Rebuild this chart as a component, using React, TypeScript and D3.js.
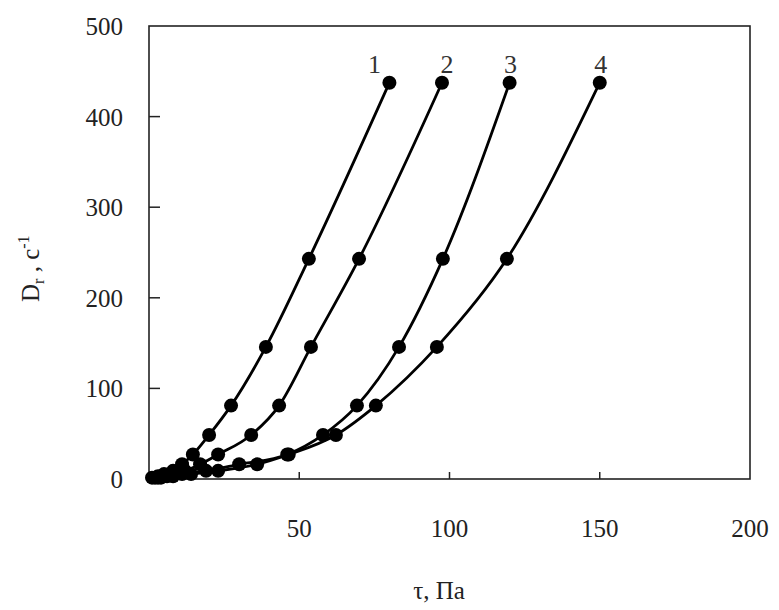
import * as d3 from 'd3';
import { useEffect, useRef } from 'react';

// shear rate (y), c^-1 — same for all four samples
const shearRates = [1.5, 3, 5.4, 9, 16.2, 27, 48.6, 81, 145.8, 243, 437.4];
// shear stress (x), Pa — one array per curve
const stress1 = [1, 3, 5, 8, 11, 14.6, 20, 27.3, 38.9, 53.2, 80];
const stress2 = [2, 5, 8, 12, 17, 23, 34, 43.3, 53.9, 69.9, 97.5];
const stress3 = [3, 6, 11, 19, 30, 46, 57.9, 69.2, 83.2, 97.8, 120];
const stress4 = [4, 8, 14, 23, 36, 46.5, 62.2, 75.5, 95.8, 119.1, 150];
const curveNames = ['1', '2', '3', '4'];
const xTicks = [50, 100, 150, 200];
const yTicks = [0, 100, 200, 300, 400, 500];

const FONT = '"Liberation Serif", "Times New Roman", serif';

function drawChart(el: SVGSVGElement) {
  const width = 779;
  const height = 610;
  const margin = { top: 26, right: 29, bottom: 131, left: 149 };

  const svg = d3.select(el);
  svg.selectAll('*').remove();
  svg.attr('width', width).attr('height', height);

  const x = d3.scaleLinear().domain([0, 200]).range([margin.left, width - margin.right]);
  const y = d3.scaleLinear().domain([0, 500]).range([height - margin.bottom, margin.top]);

  const series = [stress1, stress2, stress3, stress4];

  // frame
  svg
    .append('rect')
    .attr('x', x(0))
    .attr('y', y(500))
    .attr('width', x(200) - x(0))
    .attr('height', y(0) - y(500))
    .attr('fill', 'none')
    .attr('stroke', '#222')
    .attr('stroke-width', 1.6);

  // inside ticks
  svg
    .selectAll('.xtick')
    .data(xTicks.filter((t) => t < 200))
    .enter()
    .append('line')
    .attr('x1', (d) => x(d))
    .attr('x2', (d) => x(d))
    .attr('y1', y(0))
    .attr('y2', y(0) - 7)
    .attr('stroke', '#222')
    .attr('stroke-width', 1.5);

  svg
    .selectAll('.ytick')
    .data(yTicks.filter((t) => t > 0 && t < 500))
    .enter()
    .append('line')
    .attr('x1', x(0))
    .attr('x2', x(0) + 11)
    .attr('y1', (d) => y(d))
    .attr('y2', (d) => y(d))
    .attr('stroke', '#222')
    .attr('stroke-width', 1.5);

  // tick labels
  svg
    .selectAll('.xlabel')
    .data(xTicks)
    .enter()
    .append('text')
    .attr('x', (d) => x(d))
    .attr('y', y(0) + 58)
    .attr('text-anchor', 'middle')
    .attr('font-family', FONT)
    .attr('font-size', 25)
    .attr('fill', '#222')
    .text((d) => d);

  svg
    .selectAll('.ylabel')
    .data(yTicks)
    .enter()
    .append('text')
    .attr('x', x(0) - 26)
    .attr('y', (d) => y(d) + 9)
    .attr('text-anchor', 'end')
    .attr('font-family', FONT)
    .attr('font-size', 25)
    .attr('fill', '#222')
    .text((d) => d);

  // axis titles
  svg
    .append('text')
    .attr('x', 439)
    .attr('y', 599)
    .attr('text-anchor', 'middle')
    .attr('font-family', FONT)
    .attr('font-size', 25)
    .attr('fill', '#222')
    .text('τ, Па');

  const yTitle = svg
    .append('text')
    .attr('transform', 'translate(39,302) rotate(-90)')
    .attr('font-family', FONT)
    .attr('font-size', 25)
    .attr('fill', '#222');
  yTitle.append('tspan').text('D');
  yTitle.append('tspan').attr('font-size', 16).attr('dy', 5).text('r');
  yTitle.append('tspan').attr('dy', -5).text(' , c');
  yTitle.append('tspan').attr('font-size', 16).attr('dy', -10).text('-1');

  const line = d3
    .line<number>()
    .x((d) => x(d))
    .y((_, i) => y(shearRates[i]))
    .curve(d3.curveMonotoneX);

  series.forEach((s) => {
    svg
      .append('path')
      .attr('d', line(s))
      .attr('fill', 'none')
      .attr('stroke', '#000')
      .attr('stroke-width', 2.8);

    svg
      .append('g')
      .selectAll('circle')
      .data(s)
      .enter()
      .append('circle')
      .attr('cx', (d) => x(d))
      .attr('cy', (_, i) => y(shearRates[i]))
      .attr('r', 7)
      .attr('fill', '#000');
  });

  // curve numbers above the last point of each curve
  const labelDx = [-15, 5, 1, 1];
  svg
    .selectAll('.cname')
    .data(curveNames)
    .enter()
    .append('text')
    .attr('x', (_, i) => x(series[i][series[i].length - 1]) + labelDx[i])
    .attr('y', y(shearRates[shearRates.length - 1]) - 10)
    .attr('text-anchor', 'middle')
    .attr('font-family', FONT)
    .attr('font-size', 26)
    .attr('fill', '#333')
    .text((d) => d);
}

export default function App() {
  const ref = useRef<SVGSVGElement>(null);

  useEffect(() => {
    if (ref.current) drawChart(ref.current);
  }, []);

  return (
    <svg
      ref={ref}
      style={{ position: 'absolute', left: 0, top: 0, background: '#fff' }}
    />
  );
}
